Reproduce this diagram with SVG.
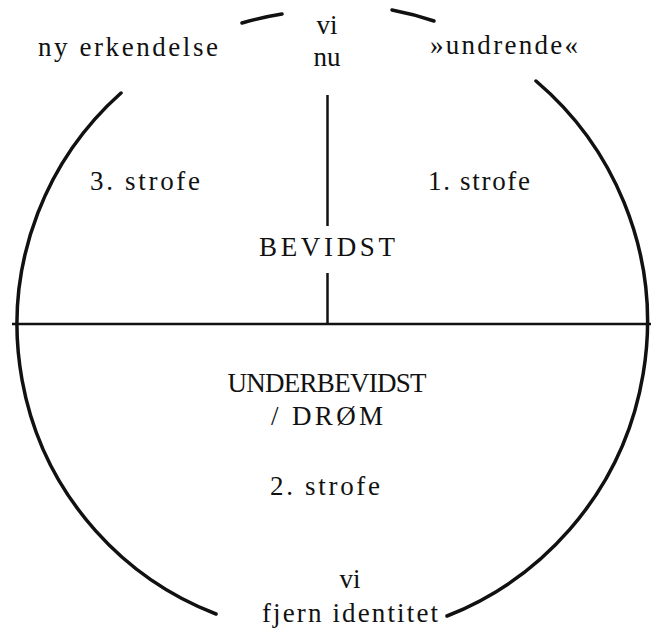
<svg xmlns="http://www.w3.org/2000/svg" width="654" height="633" viewBox="0 0 654 633">
<style>
.t{font-family:"Liberation Serif","DejaVu Serif","Times New Roman",serif;font-size:27px;fill:#111;text-anchor:middle}
.c{fill:none;stroke:#111;stroke-width:3.5;stroke-linecap:round}
.l{fill:none;stroke:#111;stroke-width:2.5}
</style>
<rect width="654" height="633" fill="#fff"/>
<g id="connectors">
<path class="c" d="M242 23 A316 316 0 0 1 282 14"/>
<path class="c" d="M392 10 A316 316 0 0 1 434 21"/>
<path class="c" d="M536 81 A316 316 0 0 1 447 616"/>
<path class="c" d="M216 614 A310 310 0 0 1 121 93"/>
<line class="l" x1="12" y1="324" x2="651" y2="324"/>
<line class="l" x1="327.5" y1="95" x2="327.5" y2="226"/>
<line class="l" x1="327.5" y1="273" x2="327.5" y2="324"/>
</g>
<g id="n-top-left"><text class="t" x="128" y="56" textLength="180" lengthAdjust="spacing">ny erkendelse</text></g>
<g id="n-top-center"><text class="t" x="327" y="34">vi</text><text class="t" x="327" y="66">nu</text></g>
<g id="n-top-right"><text class="t" x="504" y="54" textLength="148" lengthAdjust="spacing">»undrende«</text></g>
<g id="n-strofe3"><text class="t" x="145" y="190" textLength="110" lengthAdjust="spacing">3. strofe</text></g>
<g id="n-strofe1"><text class="t" x="479" y="190" textLength="102" lengthAdjust="spacing">1. strofe</text></g>
<g id="n-bevidst"><text class="t" x="327" y="256" textLength="136" lengthAdjust="spacing">BEVIDST</text></g>
<g id="n-underbevidst"><text class="t" x="327" y="392" textLength="199" lengthAdjust="spacing">UNDERBEVIDST</text><text class="t" x="327" y="425" textLength="112" lengthAdjust="spacing">/ DRØM</text></g>
<g id="n-strofe2"><text class="t" x="325" y="495" textLength="110" lengthAdjust="spacing">2. strofe</text></g>
<g id="n-bottom"><text class="t" x="350" y="588">vi</text><text class="t" x="350" y="622" textLength="176" lengthAdjust="spacing">fjern identitet</text></g>
</svg>
